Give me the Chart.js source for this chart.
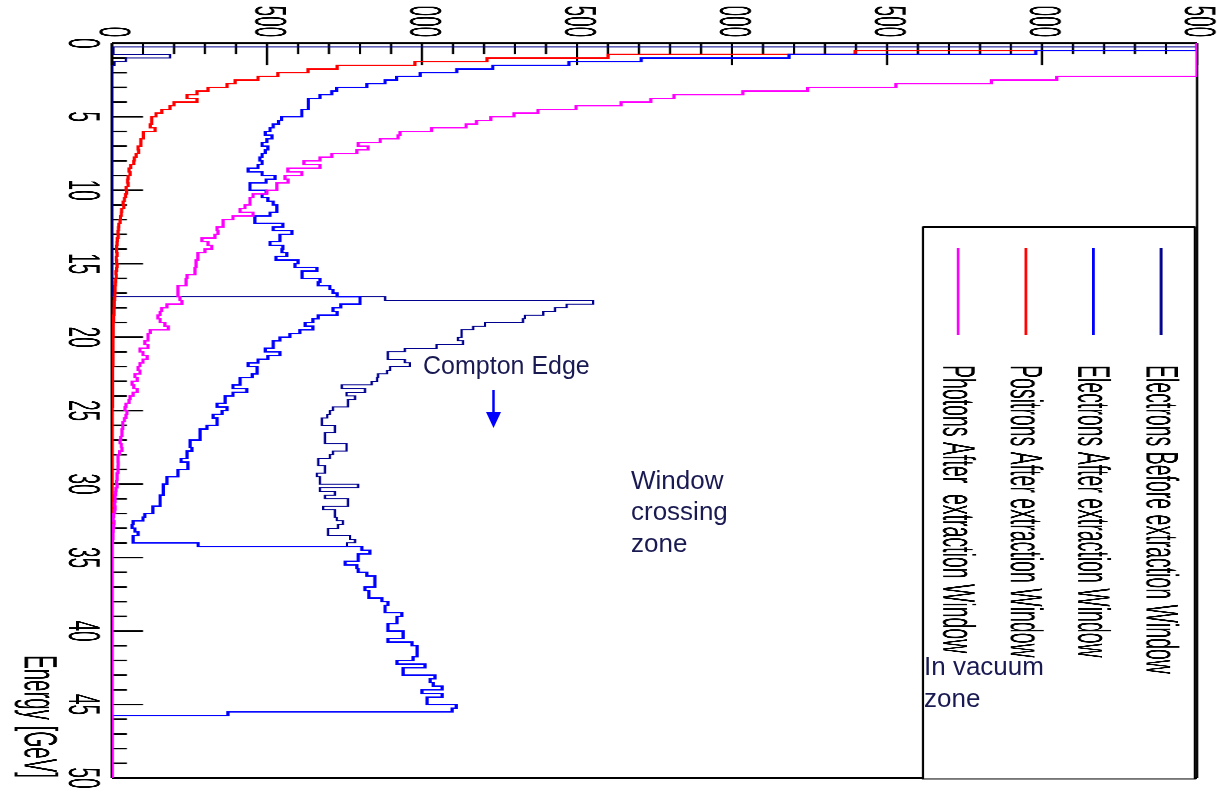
<!DOCTYPE html>
<html>
<head>
<meta charset="utf-8">
<title>Energy spectra around the extraction window</title>
<script src="https://cdn.jsdelivr.net/npm/chart.js@4.4.1/dist/chart.umd.min.js"></script>
<style>
  html, body { margin: 0; padding: 0; background: #fff; }
  body { width: 1217px; height: 792px; overflow: hidden; position: relative; }
  /* the ROOT canvas is drawn upright, then turned a quarter turn and stretched like the original slide */
  #frame { position: absolute; left: 0; top: 0; width: 786px; height: 529px;
           transform-origin: 0 0; transform: translate(1217px, 6.7px) rotate(90deg) scale(1, 2.3006); }
  #notes { position: absolute; left: 0; top: 0; }
  #notes text { font-family: "Liberation Sans", Arial, sans-serif; fill: #1a1a52; }
</style>
</head>
<body>
<div id="frame"><canvas id="spectrumChart" width="786" height="529"></canvas></div>
<svg id="notes" width="1217" height="792">
  <text x="423" y="374" font-size="25">Compton Edge</text>
  <line x1="493.5" y1="390" x2="493.5" y2="414" stroke="#0000ff" stroke-width="2.5"/>
  <polygon points="486,412 501,412 493.5,428" fill="#0000ff"/>
  <text x="631" y="489" font-size="26">Window</text>
  <text x="631" y="520" font-size="26">crossing</text>
  <text x="631" y="552" font-size="26">zone</text>
  <text x="924" y="675" font-size="26">In vacuum</text>
  <text x="924" y="707" font-size="26">zone</text>
</svg>
<script>
// histogram binning: 200 bins of 0.25 GeV between 0 and 50 GeV
const BIN_WIDTH = 0.25;
const energyTicks = [0, 5, 10, 15, 20, 25, 30, 35, 40, 45, 50];
const countTicks = [0, 500, 1000, 1500, 2000, 2500, 3000, 3500];

// counts per bin (bins above 3500 are shown at the frame edge, as ROOT does)
const electronsBefore = [
  3500, 5, 5, 187, 45, 8, 0, 0, 0, 0,
  0, 0, 0, 0, 0, 0, 0, 0, 0, 0,
  0, 0, 0, 0, 0, 0, 0, 0, 0, 0,
  0, 0, 0, 0, 0, 0, 0, 0, 0, 0,
  0, 0, 0, 0, 0, 0, 0, 0, 0, 0,
  0, 0, 0, 0, 0, 0, 0, 0, 0, 0,
  0, 0, 0, 0, 0, 0, 0, 0, 0, 881,
  1552, 1467, 1429, 1391, 1332, 1326, 1203, 1165, 1128, 1128,
  1116, 1132, 1047, 945, 890, 890, 945, 961, 897, 887,
  858, 855, 838, 741, 816, 757, 784, 761, 761, 713,
  703, 694, 677, 677, 719, 719, 687, 687, 687, 757,
  757, 713, 703, 665, 665, 687, 687, 661, 671, 671,
  794, 671, 719, 687, 761, 761, 681, 719, 719, 725,
  745, 729, 697, 697, 768, 784, 758, 806, 832, 794,
  794, 752, 790, 794, 822, 848, 848, 848, 816, 829,
  829, 871, 890, 881, 881, 935, 919, 919, 890, 890,
  939, 939, 890, 968, 984, 984, 984, 971, 919, 1010,
  939, 939, 1042, 1026, 1036, 1065, 1000, 1065, 1016, 1016,
  1110, 1097, 374, 0, 0, 0, 0, 0, 0, 0,
  0, 0, 0, 0, 0, 0, 0, 0, 0, 0
];

const electronsAfter = [
  3500, 3500, 2980, 2184, 1707, 1474, 1228, 1112, 994, 918,
  881, 822, 725, 709, 671, 633, 633, 633, 612, 612,
  547, 537, 520, 510, 494, 516, 500, 484, 503, 494,
  484, 477, 484, 471, 439, 484, 526, 497, 445, 445,
  497, 484, 503, 520, 532, 532, 510, 461, 461, 551,
  520, 580, 542, 542, 510, 551, 548, 564, 529, 600,
  590, 661, 613, 613, 671, 665, 703, 713, 726, 800,
  800, 738, 713, 726, 665, 648, 623, 648, 606, 574,
  542, 520, 520, 494, 542, 503, 471, 439, 468, 468,
  452, 413, 413, 390, 435, 390, 365, 365, 339, 371,
  355, 326, 339, 339, 306, 284, 284, 284, 252, 252,
  258, 242, 242, 223, 245, 245, 213, 213, 177, 177,
  165, 165, 165, 155, 155, 155, 132, 132, 106, 100,
  68, 65, 74, 84, 68, 68, 278, 806, 832, 794,
  794, 752, 790, 794, 822, 848, 848, 848, 816, 829,
  829, 871, 890, 881, 881, 935, 919, 919, 890, 890,
  939, 939, 890, 968, 984, 984, 984, 971, 919, 1010,
  939, 939, 1042, 1026, 1036, 1065, 1000, 1065, 1016, 1016,
  1110, 1097, 374, 0, 0, 0, 0, 0, 0, 0,
  0, 0, 0, 0, 0, 0, 0, 0, 0, 0
];

const positronsAfter = [
  3500, 3500, 2397, 1600, 1210, 977, 726, 632, 535, 471,
  397, 371, 310, 274, 242, 274, 200, 187, 161, 142,
  128, 128, 123, 139, 101, 101, 93, 93, 84, 86,
  78, 72, 70, 60, 55, 58, 52, 50, 52, 46,
  47, 44, 40, 36, 38, 31, 30, 27, 26, 22,
  21, 19, 20, 17, 16, 15, 15, 16, 14, 15,
  16, 15, 13, 14, 12, 11, 10, 10, 9, 8,
  7, 7, 6, 6, 5, 5, 4, 4, 4, 4,
  3, 3, 3, 3, 3, 3, 3, 3, 2, 2,
  2, 2, 2, 2, 2, 2, 2, 2, 2, 1,
  1, 1, 1, 1, 1, 1, 1, 1, 1, 1,
  1, 1, 1, 1, 1, 1, 1, 1, 1, 1,
  1, 1, 1, 1, 1, 1, 1, 1, 1, 0,
  0, 0, 0, 0, 0, 0, 0, 0, 0, 0,
  0, 0, 0, 0, 0, 0, 0, 0, 0, 0,
  0, 0, 0, 0, 0, 0, 0, 0, 0, 0,
  0, 0, 0, 0, 0, 0, 0, 0, 0, 0,
  0, 0, 0, 0, 0, 0, 0, 0, 0, 0,
  0, 0, 0, 0, 0, 0, 0, 0, 0, 0,
  0, 0, 0, 0, 0, 0, 0, 0, 0, 0
];

const photonsAfter = [
  3500, 3500, 3500, 3500, 3500, 3500, 3500, 3500, 3500, 3048,
  2837, 2529, 2244, 2035, 1813, 1738, 1642, 1497, 1374, 1297,
  1222, 1176, 1142, 1031, 929, 923, 865, 794, 826, 790,
  709, 671, 619, 671, 567, 612, 558, 568, 532, 532,
  500, 455, 445, 445, 429, 413, 455, 390, 358, 358,
  339, 342, 332, 290, 310, 322, 300, 277, 277, 271,
  271, 268, 268, 242, 239, 239, 213, 213, 213, 219,
  226, 177, 160, 155, 148, 155, 171, 182, 123, 116,
  116, 106, 116, 90, 100, 113, 100, 90, 84, 90,
  74, 81, 65, 70, 81, 68, 58, 55, 45, 42,
  48, 45, 40, 35, 35, 32, 32, 28, 26, 30,
  32, 25, 19, 19, 20, 19, 19, 16, 16, 15,
  16, 13, 12, 10, 10, 8, 10, 8, 5, 4,
  6, 5, 4, 3, 3, 2, 0, 0, 0, 0,
  0, 0, 0, 0, 0, 0, 0, 0, 0, 0,
  0, 0, 0, 0, 0, 0, 0, 0, 0, 0,
  0, 0, 0, 0, 0, 0, 0, 0, 0, 0,
  0, 0, 0, 0, 0, 0, 0, 0, 0, 0,
  0, 0, 0, 0, 0, 0, 0, 0, 0, 0,
  0, 0, 0, 0, 0, 0, 0, 0, 0, 0
];

// turn bin contents into points at the bin low edges, plus the closing edge
function toSteps(values) {
    const pts = values.map((v, i) => ({ x: i * BIN_WIDTH, y: v }));
    pts.push({ x: values.length * BIN_WIDTH, y: values[values.length - 1] });
    return pts;
}

function histo(label, values, color, width, order) {
    return {
        label: label,
        data: toSteps(values),
        borderColor: color,
        borderWidth: width,
        stepped: 'before',
        pointRadius: 0,
        fill: false,
        order: order
    };
}

const FONT = '"Liberation Sans", Arial, sans-serif';

// ROOT style frame with inward ticks
const rootFrame = {
    id: 'rootFrame',
    beforeDatasetsDraw(chart) {
        const { ctx, chartArea: a, scales: { x, y } } = chart;
        ctx.save();
        ctx.strokeStyle = '#000';

        ctx.lineWidth = 1.6;
        for (let e = 0; e <= 50; e += 1) {
            const px = x.getPixelForValue(e);
            const len = e % 5 === 0 ? 13.5 : 6.5;
            ctx.beginPath();
            ctx.moveTo(px, a.bottom);
            ctx.lineTo(px, a.bottom - len);
            ctx.stroke();
        }

        ctx.lineWidth = 1;
        for (let c = 0; c <= 3500; c += 100) {
            const py = y.getPixelForValue(c);
            const len = c % 500 === 0 ? 22 : 11;
            ctx.beginPath();
            ctx.moveTo(a.left, py);
            ctx.lineTo(a.left + len, py);
            ctx.stroke();
        }

        ctx.lineWidth = 1.3;
        ctx.beginPath(); ctx.moveTo(a.left, a.bottom); ctx.lineTo(a.right, a.bottom); ctx.stroke();
        ctx.lineWidth = 1;
        ctx.beginPath(); ctx.moveTo(a.left, a.top); ctx.lineTo(a.right, a.top); ctx.stroke();
        ctx.lineWidth = 2;
        ctx.beginPath(); ctx.moveTo(a.left, a.top); ctx.lineTo(a.left, a.bottom); ctx.stroke();
        ctx.beginPath(); ctx.moveTo(a.right, a.top); ctx.lineTo(a.right, a.bottom); ctx.stroke();
        ctx.restore();
    }
};

// TLegend-like box in the upper right corner
const rootLegend = {
    id: 'rootLegend',
    afterDatasetsDraw(chart) {
        const { ctx, chartArea: a } = chart;
        const left = 220.3, right = a.right + 1, top = a.top + 0.9, bottom = 127.8;
        ctx.save();
        ctx.fillStyle = '#fff';
        ctx.fillRect(left, top, right - left, bottom - top);
        ctx.strokeStyle = '#000';
        ctx.lineWidth = 1;
        ctx.strokeRect(left, top, right - left, bottom - top);
        ctx.lineWidth = 2;
        ctx.beginPath(); ctx.moveTo(left, top); ctx.lineTo(left, bottom); ctx.stroke();

        chart.data.datasets.forEach((ds, row) => {
            const cy = 24.3 + row * 29.4;
            ctx.strokeStyle = ds.borderColor;
            ctx.lineWidth = 1.2;
            ctx.beginPath();
            ctx.moveTo(241.3, cy);
            ctx.lineTo(328.3, cy);
            ctx.stroke();
            ctx.fillStyle = '#000';
            ctx.font = '19.5px ' + FONT;
            ctx.textBaseline = 'alphabetic';
            ctx.textAlign = 'left';
            ctx.fillText(ds.label, 358.3, cy + 6.5);
        });
        ctx.restore();
    }
};

const ctx = document.getElementById('spectrumChart').getContext('2d');

new Chart(ctx, {
    type: 'line',
    data: {
        datasets: [
            histo('Electrons Before extraction Window', electronsBefore, '#00008f', 1.0, 3),
            histo('Electrons After extraction Window', electronsAfter, '#0000ff', 1.4, 1),
            histo('Positrons After extraction Window', positronsAfter, '#ff0000', 1.4, 2),
            histo('Photons After  extraction Window', photonsAfter, '#ff00ff', 1.4, 0)
        ]
    },
    options: {
        responsive: false,
        animation: false,
        devicePixelRatio: 3,
        layout: { padding: { left: 0, right: 14.7, top: 8.7, bottom: 0 } },
        plugins: {
            legend: { display: false },
            tooltip: { enabled: false }
        },
        scales: {
            x: {
                type: 'linear',
                position: 'bottom',
                min: 0,
                max: 50,
                afterBuildTicks: s => { s.ticks = energyTicks.map(v => ({ value: v })); },
                afterFit: s => { s.height = 48.7; s.paddingLeft = 0; s.paddingRight = 0; },
                grid: { display: false, drawTicks: false },
                border: { display: false },
                ticks: {
                    autoSkip: false,
                    maxRotation: 0,
                    minRotation: 0,
                    padding: 2,
                    color: '#000',
                    font: { family: FONT, size: 19 }
                },
                title: {
                    display: true,
                    text: 'Energy [GeV]',
                    align: 'end',
                    color: '#000',
                    padding: { top: 0, bottom: 4 },
                    font: { family: FONT, size: 20.5 }
                }
            },
            y: {
                type: 'linear',
                min: 0,
                max: 3500,
                afterBuildTicks: s => { s.ticks = countTicks.map(v => ({ value: v })); },
                afterFit: s => { s.width = 36.6; s.paddingTop = 0; s.paddingBottom = 0; },
                grid: { display: false, drawTicks: false },
                border: { display: false },
                ticks: {
                    autoSkip: false,
                    padding: 6,
                    color: '#000',
                    font: { family: FONT, size: 19 }
                }
            }
        }
    },
    plugins: [rootFrame, rootLegend]
});
</script>
</body>
</html>
